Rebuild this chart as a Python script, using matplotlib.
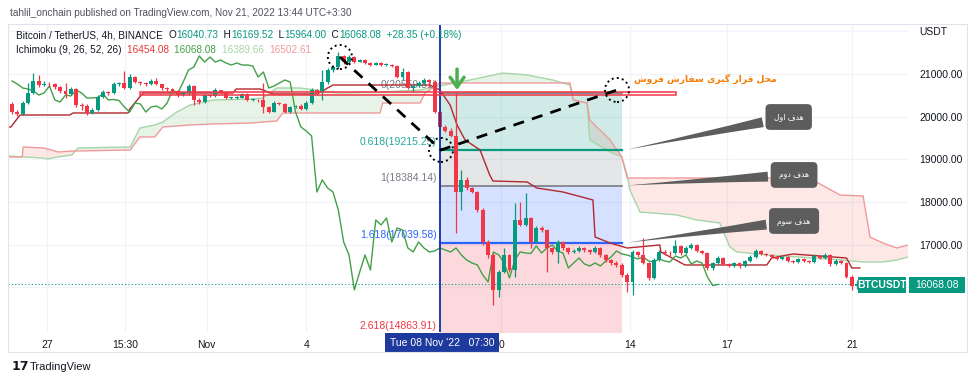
import matplotlib
matplotlib.use("Agg")
import matplotlib.pyplot as plt
import matplotlib.transforms as mtransforms
from matplotlib.patches import Rectangle
import numpy as np

W, H = 975, 384

# ---- BTCUSDT 4h candles (26 Oct - 21 Nov 2022) ----
first_open = 20297.0
close = np.array([
    20109, 20062, 20320, 20555, 20836, 20742, 20766, 20754, 20695, 20602,
    20531, 20648, 20273, 20250, 20086, 20156, 20461, 20578, 20555, 20766,
    20789, 20672, 20930, 20812, 20789, 20766, 20836, 20766, 20672, 20648,
    20602, 20508, 20555, 20719, 20391, 20344, 20508, 20484, 20625, 20555,
    20437, 20437, 20449, 20531, 20391, 20402, 20379, 20227, 20109, 20320,
    20297, 20109, 20227, 20250, 20180, 20320, 20625, 20555, 20812, 21094,
    21164, 21422, 21281, 21398, 21281, 21328, 21258, 21211, 21258, 21211,
    21211, 21188, 20930, 21047, 20672, 20719, 20789, 20859, 20812, 20109,
    19758, 19664, 19547, 18234, 18516, 18328, 18234, 17812, 17062, 16758,
    15937, 16359, 16758, 16406, 17578, 17461, 17625, 17062, 17390, 17344,
    16922, 16828, 17062, 16922, 16828, 16851, 16922, 16875, 16828, 16922,
    16758, 16640, 16570, 16523, 16289, 16125, 16828, 16758, 16570, 16218,
    16640, 16828, 16804, 16793, 16969, 16804, 16922, 16992, 16851, 16804,
    16453, 16570, 16687, 16547, 16500, 16570, 16500, 16617, 16711, 16851,
    16781, 16758, 16711, 16664, 16711, 16617, 16593, 16664, 16617, 16593,
    16734, 16687, 16758, 16547, 16617, 16570, 16242, 16040.73, 16068.08])
high = np.array([
    20344, 20156, 20367, 20789, 21023, 20977, 20836, 20812, 20789, 20719,
    20789, 20695, 20672, 20320, 20297, 20203, 20508, 20625, 20602, 20812,
    20812, 21070, 21000, 20953, 20836, 20812, 20883, 20906, 20766, 20695,
    20672, 20625, 20578, 20766, 20742, 20437, 20531, 20531, 20672, 20625,
    20578, 20461, 20484, 20555, 20555, 20437, 20414, 20789, 20250, 20367,
    20344, 20320, 20250, 20273, 20297, 20367, 20672, 20648, 21094, 21141,
    21211, 21516, 21445, 21445, 21422, 21352, 21352, 21281, 21281, 21281,
    21258, 21234, 21211, 21141, 21070, 20766, 20836, 20906, 20883, 20859,
    20156, 19805, 19734, 20578, 18750, 18586, 18351, 18258, 17859, 17109,
    16804, 16406, 16922, 16781, 17976, 18000, 18211, 17648, 17437, 17437,
    17367, 16945, 17109, 17086, 16945, 16898, 16969, 16945, 16898, 16969,
    16945, 16781, 16664, 16617, 16570, 16336, 16875, 16851, 17156, 16593,
    16687, 16875, 16875, 16851, 17109, 16992, 16969, 17039, 17016, 16875,
    16828, 16593, 16734, 16711, 16570, 16593, 16593, 16640, 16758, 16898,
    16875, 16804, 16781, 16734, 16734, 16734, 16640, 16687, 16687, 16640,
    16781, 16758, 16804, 16781, 16664, 16640, 16593, 16289, 16169.52])
low = np.array([
    20062, 20016, 20039, 20297, 20531, 20695, 20719, 20695, 20648, 20555,
    20437, 20508, 20227, 20156, 20039, 20062, 20133, 20437, 20508, 20531,
    20719, 20648, 20648, 20789, 20742, 20719, 20742, 20742, 20625, 20602,
    20555, 20461, 20484, 20508, 20273, 20297, 20320, 20461, 20461, 20531,
    20414, 20414, 20414, 20437, 20367, 20367, 20344, 20086, 20086, 20109,
    20273, 20086, 20086, 20203, 20156, 20156, 20297, 20508, 20391, 20766,
    21047, 21141, 21234, 21258, 21258, 21281, 21234, 21188, 21211, 21188,
    21188, 21164, 20906, 20859, 20648, 20578, 20695, 20742, 20695, 20086,
    19734, 19641, 19523, 17273, 17812, 18281, 18211, 17765, 16992, 16687,
    15585, 15773, 16336, 16359, 16242, 17437, 17437, 16922, 17039, 17297,
    16359, 16781, 16570, 16875, 16781, 16804, 16828, 16828, 16781, 16804,
    16711, 16593, 16523, 16476, 16242, 15890, 15820, 16711, 16547, 16172,
    16195, 16617, 16758, 16734, 16781, 16758, 16781, 16898, 16828, 16781,
    16406, 16406, 16547, 16523, 16476, 16476, 16453, 16476, 16593, 16687,
    16758, 16734, 16687, 16640, 16640, 16593, 16570, 16570, 16593, 16570,
    16570, 16664, 16664, 16500, 16523, 16547, 16218, 15937, 15964.00])

# ichimoku base line and cloud (leading spans), sampled where they turn
kijun_k = [-0.75, -0.2, 1.5, 10.8, 11.4, 21.7, 22.0, 24.5, 41.3, 41.9,
           46.4, 48.8, 57.0, 58.0, 60.0, 78.1, 80.0, 81.9, 83.2, 84.7,
           87.5, 89.3, 89.9, 96.3, 98.1, 103.0, 108.6, 109.0, 111.8, 115.0,
           121.1, 121.3, 125.8, 141.1, 142.0, 146.0, 156.0, 157.0, 158.5]
kijun_v = [19758, 19758, 20039, 20039, 20086, 20086, 20180, 20555, 20555, 20648,
           20648, 20531, 20531, 20602, 20742, 20742, 20625, 20273, 19805, 19453,
           19219, 18633, 18492, 18469, 18328, 18234, 18047, 17179, 17039, 16921,
           16992, 16828, 16523, 16523, 16687, 16781, 16687, 16454, 16454]
cloud_k = [-0.75, 1.9, 2.1, 5.8, 6.7, 8.6, 11.2, 12.3, 22.1, 23.9,
           26.7, 28.2, 30.8, 33.3, 37.6, 45.0, 46.9, 49.5, 50.6, 53.8,
           61.3, 68.8, 69.3, 76.3, 77.2, 80.0, 85.6, 91.8, 96.3, 101.1,
           104.3, 104.9, 107.5, 108.0, 111.8, 114.0, 115.0, 115.5, 117.4, 124.3,
           128.0, 132.3, 134.2, 135.5, 141.1, 149.7, 154.8, 159.1, 160.4, 162.8,
           165.4, 167.5]
span_a = [19078, 19055, 19055, 19031, 19008, 19055, 19102, 19266, 19289, 19734,
          19805, 19875, 20109, 20273, 20391, 20414, 20437, 20672, 20672, 20672,
          20555, 20578, 20578, 20625, 20648, 20719, 20859, 21023, 20977, 20859,
          20742, 20391, 20320, 19453, 19172, 19055, 18633, 18281, 17765, 17695,
          17578, 17508, 16945, 16828, 16758, 16687, 16640, 16593, 16593, 16593,
          16640, 16710]
span_b = [19055, 19055, 19289, 19266, 19242, 19172, 19195, 19195, 19219, 19523,
          19523, 19758, 19781, 19805, 19828, 19852, 19875, 19898, 20086, 20086,
          20086, 20086, 20320, 20320, 20555, 20789, 20789, 20789, 20789, 20789,
          20789, 20391, 20320, 19922, 19453, 19055, 18562, 18562, 18562, 18562,
          18562, 18562, 18562, 18562, 18562, 18515, 18164, 18141, 17179, 17039,
          16921, 16992]
lag = 26

# fibonacci extension drawn by the author
fib_ratios = ["0", "0.618", "1", "1.618", "2.618"]
fib_prices = [20559.81, 19215.25, 18384.14, 17039.58, 14863.91]
fib_start, fib_end = 80.0, 114.0

# author's swing path (top -> pullback -> sell zone) and its circled points
swing_k = [61.3, 80.2, 113.1]
swing_p = [21398, 19219, 20625]

time_ticks = [6.5, 21.1, 36.4, 55.0, 91.5, 115.5, 133.6, 157.0]
time_labels = ["27", "15:30", "Nov", "4", "0", "14", "17", "21"]
price_ticks = [16000, 17000, 18000, 19000, 20000, 21000, 22000]

last_ohlc = [16040.73, 16169.52, 15964.00, 16068.08]
last_change = [28.35, 0.18]
ichi_vals = [16454.08, 16068.08, 16389.66, 16502.61]

GREEN, RED, DARK = "#089981", "#f23645", "#131722"

# ---- persian text: contextual forms + visual order (no shaping engine here) ----
FORMS = {
    "ا": ("\uFE8D", "\uFE8E", None, None), "د": ("\uFEA9", "\uFEAA", None, None),
    "ر": ("\uFEAD", "\uFEAE", None, None), "و": ("\uFEED", "\uFEEE", None, None),
    "ح": ("\uFEA1", "\uFEA2", "\uFEA3", "\uFEA4"), "س": ("\uFEB1", "\uFEB2", "\uFEB3", "\uFEB4"),
    "ش": ("\uFEB5", "\uFEB6", "\uFEB7", "\uFEB8"), "ف": ("\uFED1", "\uFED2", "\uFED3", "\uFED4"),
    "ق": ("\uFED5", "\uFED6", "\uFED7", "\uFED8"), "ل": ("\uFEDD", "\uFEDE", "\uFEDF", "\uFEE0"),
    "م": ("\uFEE1", "\uFEE2", "\uFEE3", "\uFEE4"), "ه": ("\uFEE9", "\uFEEA", "\uFEEB", "\uFEEC"),
    "ی": ("\uFBFC", "\uFBFD", "\uFBFE", "\uFBFF"), "گ": ("\uFB92", "\uFB93", "\uFB94", "\uFB95"),
}


def shape(s):
    out = []
    for i, ch in enumerate(s):
        f = FORMS.get(ch)
        if f is None:
            out.append(ch)
            continue
        prev = s[i - 1] if i > 0 else ""
        nxt = s[i + 1] if i + 1 < len(s) else ""
        jp = prev in FORMS and FORMS[prev][2] is not None
        jn = f[2] is not None and nxt in FORMS
        out.append(f[3] if (jp and jn) else f[1] if jp else f[2] if jn else f[0])
    return "".join(reversed(out))


plt.rcParams["font.family"] = ["Liberation Sans", "DejaVu Sans"]

fig = plt.figure(figsize=(W / 100, H / 100), dpi=100)
ax = fig.add_axes([8 / W, 1 - 332 / H, 900 / W, 308 / H])
ax.set_xlim(-0.75, 167.5)
ax.set_ylim(14952, 22172)
for s in ax.spines.values():
    s.set_visible(False)

ax.set_yticks(price_ticks)
ax.set_yticklabels([""] + ["%.2f" % p for p in price_ticks[1:-1]] + ["USDT"])
ax.yaxis.tick_right()
ax.tick_params(axis="y", length=0, pad=8, labelsize=7.5, labelcolor=DARK)
ax.set_xticks(time_ticks)
ax.set_xticklabels(time_labels)
ax.tick_params(axis="x", length=0, pad=6, labelsize=7.5, labelcolor=DARK)
ax.grid(True, color="#f0f3fa", lw=0.9)
ax.set_axisbelow(True)

# cloud
ca, cb = np.array(span_a), np.array(span_b)
ax.fill_between(cloud_k, ca, cb, where=ca >= cb, interpolate=True, color="#43a047", alpha=0.12, lw=0, zorder=1)
ax.fill_between(cloud_k, ca, cb, where=ca < cb, interpolate=True, color="#f44336", alpha=0.12, lw=0, zorder=1)
ax.plot(cloud_k, span_a, color="#a5d6a7", lw=1, zorder=2)
ax.plot(cloud_k, span_b, color="#ef9a9a", lw=1, zorder=2)

# fib zones
fib_fill = ["#089981", "#787b86", "#2962ff", "#f23645"]
fib_line = ["#787b86", "#089981", "#787b86", "#2962ff", "#f23645"]
fib_txt = ["#787b86", "#26a69a", "#787b86", "#2962ff", "#f23645"]
for i in range(4):
    ax.fill_between([fib_start, fib_end], fib_prices[i], fib_prices[i + 1],
                    color=fib_fill[i], alpha=0.19, lw=0, zorder=1.5)
for i, (r, p) in enumerate(zip(fib_ratios, fib_prices)):
    ax.plot([fib_start, fib_end], [p, p], color=fib_line[i], lw=1.6 if i in (1, 3) else 1.2, zorder=2.5)
    lab = "%s(%.2f)" % (r, p)
    if p > 14952:
        ax.annotate(lab, xy=(fib_start - 0.6, p), xytext=(0, 2), textcoords="offset points",
                    ha="right", va="bottom", fontsize=7.5, color=fib_txt[i], zorder=2.2)
    else:
        ax.text(fib_start - 0.6, 0.003, lab, transform=mtransforms.blended_transform_factory(ax.transData, ax.transAxes),
                ha="right", va="bottom", fontsize=7.5, color=fib_txt[i], zorder=2.2)

# lines
ax.plot(kijun_k, kijun_v, color="#b2282e", lw=1, zorder=3)
ax.plot(np.arange(len(close) - lag), close[lag:], color="#43a047", lw=1, zorder=3)

# candles
open_ = np.concatenate([[first_open], close[:-1]])
x = np.arange(len(close))
col = np.where(close >= open_, GREEN, RED)
ax.vlines(x, low, high, colors=col, lw=0.9, zorder=4)
ax.bar(x, np.maximum(np.abs(close - open_), 22), bottom=np.minimum(open_, close),
       width=0.74, color=col, lw=0, zorder=5)

ax.axhline(last_ohlc[3], color=GREEN, ls=(0, (1, 2)), lw=0.8, zorder=3)
ax.axvline(fib_start, color="#1e3ca8", lw=1.4, zorder=6)

# author drawings
ax.add_patch(Rectangle((23.9, 20508), 100.2, 70, fill=False, ec=RED, lw=1.1, zorder=6))
ax.plot(swing_k, swing_p, color="k", ls=(0, (4, 3)), lw=2, zorder=7)
ax.scatter(swing_k, swing_p, s=300, facecolors="none",
           edgecolors="k", linestyles=":", linewidths=1.4, zorder=7)
ax.annotate("", xy=(83.2, 20560), xytext=(83.2, 21180),
            arrowprops=dict(arrowstyle="->,head_length=0.7,head_width=0.5", color="#4caf50", lw=2.5), zorder=7)
ax.text(129.6, 20880, shape("محل قرار گیری سفارش فروش"), family=["DejaVu Sans"], fontsize=6.6,
        fontweight="bold", color="#f57c00", ha="center", va="center", zorder=8)

targets = ["هدف اول", "هدف دوم", "هدف سوم"]
box_pos = [(145.2, 19992), (146.2, 18633), (146.2, 17554)]
for txt, (bx, by), lvl in zip(targets, box_pos, fib_prices[1:4]):
    ax.annotate(shape(txt), xy=(fib_end + 0.5, lvl), xytext=(bx, by), ha="center", va="center",
                color="white", fontsize=5.5, family=["DejaVu Sans"],
                bbox=dict(boxstyle="round,pad=1.1,rounding_size=0.6", fc="#5d5d5d", ec="none"),
                arrowprops=dict(arrowstyle="wedge,tail_width=1.3,shrink_factor=0.4", fc="#5d5d5d", ec="none"),
                zorder=8)

# time-axis cursor label
ax.text(fib_start + 0.4, -0.035, "Tue 08 Nov '22   07:30", transform=mtransforms.blended_transform_factory(ax.transData, ax.transAxes),
        ha="center", va="center", fontsize=7.5, color="white", zorder=20, clip_on=False,
        bbox=dict(boxstyle="square,pad=0.45", fc="#1f3a9e", ec="none"))

# ---- figure furniture ----
fig.add_artist(Rectangle((8 / W, 1 - 352 / H), 959 / W, 328 / H, fill=False, ec="#e0e3eb", lw=0.8,
                         transform=fig.transFigure))
fig.add_artist(Rectangle((858 / W, 1 - 293 / H), 48 / W, 16 / H, fc=GREEN, ec="none", transform=fig.transFigure))
fig.add_artist(Rectangle((909 / W, 1 - 293 / H), 56 / W, 16 / H, fc=GREEN, ec="none", transform=fig.transFigure))
fig.text(882 / W, 1 - 285 / H, "BTCUSDT", color="white", fontsize=7.5, fontweight="bold", ha="center", va="center")
fig.text(937 / W, 1 - 285 / H, "%.2f" % last_ohlc[3], color="white", fontsize=7.5, ha="center", va="center")

fig.text(10 / W, 1 - 13 / H, "tahlil_onchain published on TradingView.com, Nov 21, 2022 13:44 UTC+3:30",
         color="#50535e", fontsize=7.2, va="center")

fig.canvas.draw()
rend = fig.canvas.get_renderer()


def seq(xp, yp, parts, size=7.2):
    for s, c in parts:
        t = fig.text(xp / W, 1 - yp / H, s, color=c, fontsize=size, va="center", ha="left")
        xp += t.get_window_extent(renderer=rend).width


o, h, l, c = last_ohlc
seq(16, 35, [("Bitcoin / TetherUS, 4h, BINANCE  ", DARK), ("O", DARK), ("%.2f" % o, GREEN),
             ("  H", DARK), ("%.2f" % h, GREEN), ("  L", DARK), ("%.2f" % l, GREEN),
             ("  C", DARK), ("%.2f" % c, GREEN),
             ("  %+.2f (%+.2f%%)" % (last_change[0], last_change[1]), GREEN)])
seq(16, 50, [("Ichimoku (9, 26, 52, 26)  ", DARK), ("%.2f  " % ichi_vals[0], "#e53935"),
             ("%.2f  " % ichi_vals[1], "#43a047"), ("%.2f  " % ichi_vals[2], "#a5d6a7"),
             ("%.2f" % ichi_vals[3], "#ef9a9a")])

fig.text(12 / W, 1 - 367 / H, "17", color=DARK, fontsize=9, fontweight="heavy", va="center",
         family=["DejaVu Sans"])
fig.text(30 / W, 1 - 367 / H, "TradingView", color=DARK, fontsize=8, va="center")

fig.savefig("out.png", dpi=100)
